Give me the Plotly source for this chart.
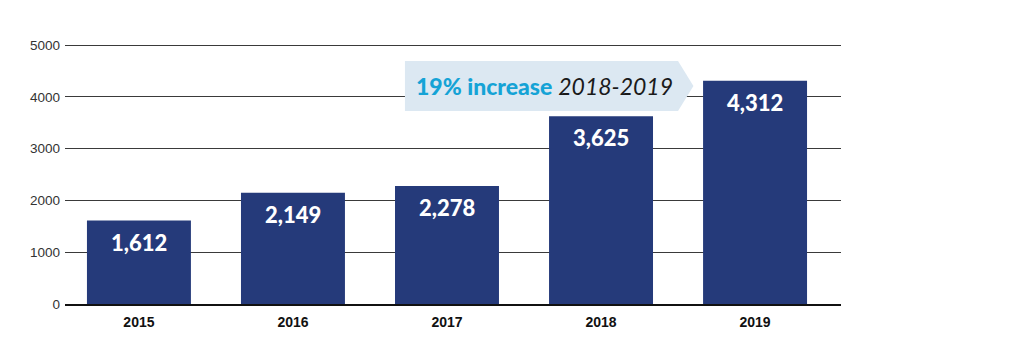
import plotly.graph_objects as go

years = ["2015", "2016", "2017", "2018", "2019"]
values = [1612, 2149, 2278, 3625, 4312]
value_labels = ["1,612", "2,149", "2,278", "3,625", "4,312"]
y_ticks = [0, 1000, 2000, 3000, 4000, 5000]

bar_color = "#253a7a"

fig = go.Figure()
fig.add_trace(go.Bar(
    x=list(range(len(years))), y=values,
    marker=dict(color=bar_color, line=dict(width=0)),
    width=0.675, hoverinfo="skip",
))

for i, (v, lab) in enumerate(zip(values, value_labels)):
    fig.add_annotation(
        x=i, y=v, xref="x", yref="y", text=lab, showarrow=False,
        yanchor="top", yshift=-6,
        font=dict(family="Lato", size=22, color="white", weight=900),
    )

# Callout arrow-box
fig.add_shape(
    type="path", xref="x", yref="y",
    path="M 1.727,4691 L 3.50,4691 L 3.60,4208 L 3.50,3726 L 1.727,3726 Z",
    fillcolor="#dce8f2", line=dict(width=0), layer="above",
)
fig.add_annotation(
    x=2.63, y=4208, xref="x", yref="y", showarrow=False,
    text="<span style='color:#15a3d6;font-weight:900'>19% increase</span> <i>2018-2019</i>",
    font=dict(family="Lato", size=23, color="#1a1a1a"),
    xanchor="center", yanchor="middle",
)

fig.update_layout(
    width=1024, height=353,
    margin=dict(l=65, r=183, t=44, b=49),
    paper_bgcolor="white", plot_bgcolor="white",
    showlegend=False,
    bargap=0.3,
)
fig.update_xaxes(
    tickmode="array", tickvals=list(range(len(years))), ticktext=years,
    range=[-0.48, 4.558], showgrid=False, zeroline=False,
    showline=True, linecolor="#111111", linewidth=2,
    ticks="", ticklabelstandoff=4,
    tickfont=dict(family="Liberation Sans", size=14, color="#111111", weight="bold"),
)
fig.update_yaxes(
    range=[0, 5020], tickvals=y_ticks, ticktext=[str(t) for t in y_ticks],
    showgrid=True, gridcolor="#3a3a3a", gridwidth=1, zeroline=False,
    showline=False, ticks="", ticklabelstandoff=4,
    tickfont=dict(family="Liberation Sans", size=13.5, color="#333333"),
)

fig.write_html("out.html")
